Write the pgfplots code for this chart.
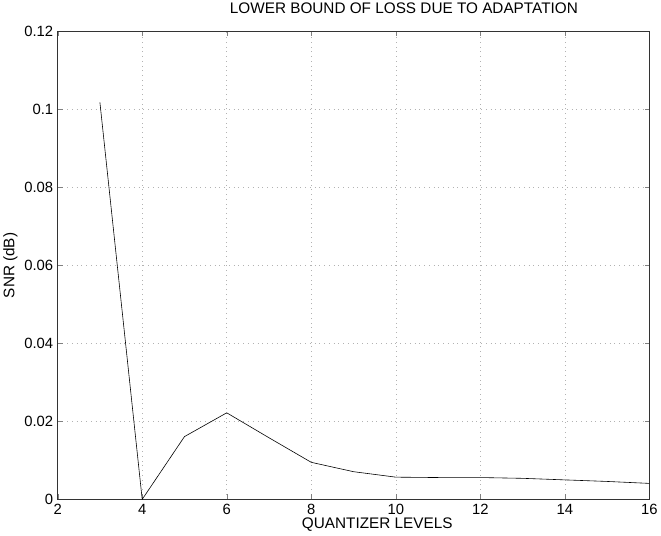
\documentclass[border=0pt]{standalone}
\usepackage{fontspec}
\setmainfont{Liberation Sans}
\usepackage{pgfplots}
\pgfplotsset{compat=1.18}
\begin{document}
\begin{tikzpicture}
\begin{axis}[
  scale only axis,
  width=597bp, height=472bp,
  xmin=2, xmax=16, ymin=0, ymax=0.12,
  xtick={2,4,...,16},
  ytick={0,0.02,0.04,0.06,0.08,0.1,0.12},
  yticklabels={0,0.02,0.04,0.06,0.08,0.1,0.12},
  tick align=inside,
  tick pos=both,
  major tick length=5bp,
  grid=major,
  major grid style={dash pattern=on 0.8bp off 4bp, gray!60, line width=0.5pt},
  axis line style={line width=0.6pt, black!80},
  /pgf/number format/assume math mode=true,
  ticklabel style={font=\fontsize{15}{17}\selectfont},
  yticklabel style={xshift=-1bp},
  xticklabel style={yshift=-1bp},
  xlabel={QUANTIZER LEVELS},
  ylabel={SNR (dB)},
  label style={font=\fontsize{15.5}{17}\selectfont},
  xlabel style={at={(ticklabel cs:0.54)}, anchor=north, yshift=3bp},
  ylabel style={yshift=0bp},
  title={LOWER BOUND OF LOSS DUE TO ADAPTATION},
  title style={font=\fontsize{15.5}{17}\selectfont, at={(0.585,1)}, anchor=south, yshift=8bp},
]
\addplot[black, line width=0.6pt] coordinates {
(3,0.1018) (4,0.0) (5,0.0161) (6,0.0222) (7,0.0158) (8,0.0095) (9,0.0071) (10,0.0057) (11,0.0056) (12,0.0056) (13,0.0054) (14,0.0050) (15,0.0046) (16,0.0041)
};
\end{axis}
\end{tikzpicture}
\end{document}
